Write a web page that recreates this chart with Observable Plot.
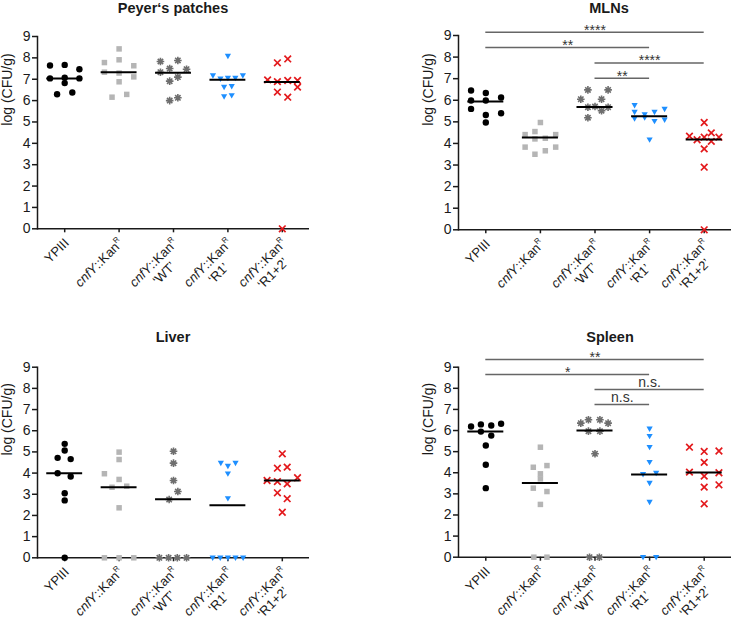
<!DOCTYPE html>
<html><head><meta charset="utf-8">
<script src="https://cdn.jsdelivr.net/npm/d3@7"></script>
<script src="https://cdn.jsdelivr.net/npm/@observablehq/plot@0.6"></script>
<style>
body{margin:0;background:#fff;}
#chart{position:relative;width:731px;height:626px;overflow:hidden;background:#fff;font-family:"Liberation Sans",Arial,sans-serif;}
#chart svg{position:absolute;background:transparent;}
.title{position:absolute;font-weight:bold;font-size:14.5px;line-height:16px;transform:translateX(-50%);white-space:nowrap;color:#1a1a1a;}
</style></head>
<body><div id="chart"></div>
<script>
// ---------- shared categories / ticks ----------
const groups = ["YPIII", "cnfY::KanR", "cnfY::KanR\n‘WT’", "cnfY::KanR\n‘R1’", "cnfY::KanR\n‘R1+2’"];
const yTicks = [0, 1, 2, 3, 4, 5, 6, 7, 8, 9];
const yLabel = "log (CFU/g)";

// ---------- Peyer's patches ----------
const peyersTitle = "Peyer‘s patches";
const peyersValues = [
  [7.64, 7.67, 7.47, 7.04, 7.07, 7.04, 6.82, 6.30, 6.38],
  [8.42, 7.78, 7.91, 7.63, 7.33, 7.29, 7.11, 6.88, 6.16, 6.29],
  [7.83, 7.88, 7.50, 7.47, 7.33, 7.10, 6.91, 6.00, 6.13],
  [8.08, 7.17, 7.02, 7.05, 7.05, 7.17, 6.63, 6.67, 6.19, 6.24],
  [7.77, 7.95, 6.97, 6.89, 6.94, 6.94, 6.63, 6.40, 6.16, 0]
];
const peyersJitter = [
  [-0.27, 0, 0.27, -0.27, 0, 0.27, 0, -0.14, 0.14],
  [0, -0.27, 0, 0.27, -0.27, 0, 0.27, 0, -0.13, 0.14],
  [-0.24, 0.08, -0.07, 0.24, -0.24, 0.08, -0.07, -0.07, 0.08],
  [0, -0.275, -0.137, 0, 0.137, 0.275, -0.07, 0.07, -0.07, 0.07],
  [-0.09, 0.1, -0.27, -0.09, 0.1, 0.28, 0.28, -0.09, 0.1, 0]
];
const peyersMedians = [7.04, 7.33, 7.30, 6.97, 6.87];
const peyersBrackets = [];

// ---------- MLNs ----------
const mlnTitle = "MLNs";
const mlnValues = [
  [6.45, 6.34, 6.13, 5.99, 5.99, 5.60, 5.32, 5.40, 4.97],
  [4.97, 4.55, 4.41, 4.41, 4.21, 4.24, 3.83, 3.83, 3.66, 3.50],
  [6.48, 6.48, 6.05, 6.05, 5.68, 5.71, 5.68, 5.52, 5.19],
  [5.76, 5.45, 5.34, 5.45, 5.59, 5.15, 5.19, 5.03, 5.09, 4.17],
  [4.97, 4.49, 4.34, 4.17, 4.29, 4.10, 4.29, 3.75, 2.90, 0]
];
const mlnJitter = [
  [-0.27, 0, 0.28, -0.27, 0, -0.27, 0, 0.28, 0],
  [0, -0.1, -0.28, 0.28, -0.1, 0.09, -0.28, 0.28, 0.09, -0.1],
  [-0.13, 0.24, -0.26, 0.12, -0.13, 0, 0.24, 0.12, -0.13],
  [-0.275, -0.275, -0.09, 0.09, 0.275, -0.275, -0.09, 0.09, 0.275, 0],
  [0, 0.13, -0.27, -0.13, 0, 0.13, 0.27, 0, 0, 0]
];
const mlnMedians = [5.94, 4.27, 5.69, 5.26, 4.18];
const mlnBracketFrom = [0, 0, 2, 2];
const mlnBracketTo = [4, 3, 4, 3];
const mlnBracketY = [9.15, 8.44, 7.73, 7.02];
const mlnBracketText = ["****", "**", "****", "**"];

// ---------- Liver ----------
const liverTitle = "Liver";
const liverValues = [
  [5.38, 5.07, 4.72, 4.66, 3.99, 3.84, 3.05, 2.71, 0],
  [4.99, 4.64, 3.97, 3.70, 3.33, 3.38, 2.36, 0, 0, 0],
  [5.03, 4.47, 3.65, 3.13, 2.75, 0, 0, 0, 0],
  [4.47, 4.33, 4.47, 3.97, 2.80, 0, 0, 0, 0, 0],
  [4.91, 4.23, 4.28, 3.65, 3.60, 3.78, 3.49, 3.07, 2.79, 2.15]
];
const liverJitter = [
  [0, 0, -0.13, 0.11, -0.13, 0.11, 0, 0, 0],
  [0, 0, -0.27, 0, -0.13, 0.14, 0, -0.27, 0, 0.27],
  [0, 0, 0, 0.08, -0.08, -0.26, -0.09, 0.07, 0.24],
  [-0.13, 0, 0.14, 0, 0, -0.28, -0.14, 0, 0.14, 0.28],
  [0, -0.09, 0.09, -0.28, -0.09, 0.28, 0.09, -0.09, 0.09, 0]
];
const liverMedians = [3.99, 3.33, 2.77, 2.48, 3.65];

// ---------- Spleen ----------
const spleenTitle = "Spleen";
const spleenValues = [
  [6.19, 6.29, 6.24, 6.32, 5.95, 5.76, 5.29, 4.38, 3.27],
  [5.21, 4.26, 4.34, 3.95, 3.71, 3.27, 3.11, 2.50, 0, 0],
  [6.35, 6.51, 6.51, 6.35, 5.97, 5.97, 4.90, 0, 0],
  [6.08, 5.73, 5.21, 4.50, 3.92, 3.98, 3.51, 2.61, 0, 0],
  [5.21, 5.01, 5.03, 4.49, 4.03, 3.84, 4.00, 3.32, 3.43, 2.53]
];
const spleenJitter = [
  [-0.27, -0.09, 0.1, 0.28, -0.09, 0.1, 0, 0, 0],
  [0, -0.13, 0.12, 0, 0, -0.13, 0.12, 0, -0.12, 0.12],
  [-0.26, -0.12, 0.09, 0.24, -0.12, 0.09, 0, -0.1, 0.08],
  [0, 0, 0, 0, -0.12, 0.12, 0, 0, -0.12, 0.12],
  [-0.27, 0, 0.27, 0, -0.27, 0, 0.27, 0, 0.27, 0]
];
const spleenMedians = [5.95, 3.51, 6.00, 3.92, 4.01];
const spleenBracketFrom = [0, 0, 2, 2];
const spleenBracketTo = [4, 3, 4, 3];
const spleenBracketY = [9.36, 8.65, 7.94, 7.23];
const spleenBracketText = ["**", "*", "n.s.", "n.s."];

// ---------- marker styles ----------
const asterisk8 = {draw(ctx, size) {
  const r = Math.sqrt(size / Math.PI), d = r * Math.SQRT1_2;
  ctx.moveTo(-r, 0); ctx.lineTo(r, 0); ctx.moveTo(0, -r); ctx.lineTo(0, r);
  ctx.moveTo(-d, -d); ctx.lineTo(d, d); ctx.moveTo(-d, d); ctx.lineTo(d, -d);
}};
const triangleDown = {draw(ctx, size) {
  const r = Math.sqrt(size / Math.PI);
  ctx.moveTo(-r, -0.75 * r); ctx.lineTo(r, -0.75 * r); ctx.lineTo(0, r); ctx.closePath();
}};
const styles = [
  {symbol: "circle", r: 3.2, fill: "#000", stroke: "none", sw: 0},
  {symbol: "square", r: 3.1, fill: "#b5b5b5", stroke: "none", sw: 0},
  {symbol: asterisk8, r: 3.8, fill: "none", stroke: "#6e6e6e", sw: 1.6},
  {symbol: triangleDown, r: 3.1, fill: "#1e8fff", stroke: "none", sw: 0},
  {symbol: "times", r: 3.1, fill: "none", stroke: "#e3191c", sw: 1.7}
];

function makeBrackets(from, to, y, text) {
  return from.map((f, i) => ({from: f, to: to[i], y: y[i], label: text[i]}));
}

function panel({values, jitter, medians, brackets, width, height, marginLeft, marginRight, marginTop, marginBottom}) {
  const points = values.flatMap((vals, g) => vals.map((v, k) => ({g, x: g + jitter[g][k], y: v})));
  const meds = medians.map((v, g) => ({g, v}));
  const labels = groups.map((t, g) => ({g, t}));
  return Plot.plot({
    width, height, marginLeft, marginRight, marginTop, marginBottom,
    style: {fontFamily: "Liberation Sans, Arial, sans-serif", fontSize: "14px", color: "#1a1a1a", background: "transparent"},
    x: {domain: [-0.5, 4.5]},
    y: {domain: [0, 9]},
    marks: [
      Plot.axisY({ticks: yTicks, tickSize: 5, tickPadding: 2, fontSize: 14, label: null, strokeWidth: 1.5}),
      Plot.axisX({ticks: [0, 1, 2, 3, 4], tickSize: 4, tickFormat: () => "", label: null, strokeWidth: 1.5}),
      Plot.frame({anchor: "left", strokeWidth: 1.5}),
      Plot.ruleY([0], {strokeWidth: 1.5}),
      Plot.text([yLabel], {frameAnchor: "left", rotate: -90, dx: -35, dy: -7, lineAnchor: "top", fontSize: 14}),
      ...styles.map((s, g) => Plot.dot(points.filter(p => p.g === g), {
        x: "x", y: "y", symbol: s.symbol, r: s.r, fill: s.fill, stroke: s.stroke, strokeWidth: s.sw
      })),
      Plot.ruleY(meds, {x1: d => d.g - 0.33, x2: d => d.g + 0.33, y: "v", strokeWidth: 2, stroke: "#000"}),
      Plot.ruleY(brackets, {x1: "from", x2: "to", y: "y", stroke: "#666", strokeWidth: 1.5}),
      Plot.text(brackets.filter(b => b.label !== "n.s."), {x: d => (d.from + d.to) / 2, y: "y", text: "label", lineAnchor: "bottom", dy: 2.5, fontSize: 14, fill: "#333"}),
      Plot.text(brackets.filter(b => b.label === "n.s."), {x: d => (d.from + d.to) / 2, y: "y", text: "label", lineAnchor: "bottom", dy: -3, fontSize: 14, fill: "#333"}),
      Plot.text(labels, {x: "g", frameAnchor: "bottom", text: "t", rotate: -45, textAnchor: "middle", lineAnchor: "bottom", dx: 5, dy: 15, fontSize: 13, ariaLabel: () => "group label"})
    ]
  });
}

const chart = document.getElementById("chart");
function place(svg, left, top) {
  svg.style.left = left + "px"; svg.style.top = top + "px";
  chart.appendChild(svg);
  // rich-text group labels (italic gene name, superscript R, centred second line)
  const flat = groups.map(g => g.replace("\n", ""));
  d3.select(svg).selectAll("text").each(function() {
    const i = flat.indexOf(this.textContent);
    if (i < 0) return;
    const [line1, line2] = groups[i].split("\n");
    const t = d3.select(this);
    t.text(null).attr("y", null).attr("dy", null).attr("text-anchor", "middle");
    const l1 = t.append("tspan").attr("x", 0).attr("y", 0);
    const m = line1.match(/^(cnfY)(::Kan)(R)$/);
    if (m) {
      l1.append("tspan").attr("font-style", "italic").text(m[1]);
      l1.append("tspan").text(m[2]);
      l1.append("tspan").attr("font-size", "0.6em").attr("dy", "-0.75em").text(m[3]);
    } else l1.text(line1);
    const w = l1.node().getComputedTextLength();
    l1.attr("x", -w / 2);
    if (line2) t.append("tspan").attr("x", -w / 2).attr("y", "1.15em").text(line2);
  });
}
function title(text, cx, top) {
  const d = document.createElement("div");
  d.className = "title"; d.textContent = text;
  d.style.left = cx + "px"; d.style.top = top + "px";
  chart.appendChild(d);
}

place(panel({values: peyersValues, jitter: peyersJitter, medians: peyersMedians, brackets: peyersBrackets,
  width: 365, height: 300, marginLeft: 37, marginRight: 56, marginTop: 36, marginBottom: 71.7}), 0, 0);
place(panel({values: mlnValues, jitter: mlnJitter, medians: mlnMedians,
  brackets: makeBrackets(mlnBracketFrom, mlnBracketTo, mlnBracketY, mlnBracketText),
  width: 366, height: 300, marginLeft: 93, marginRight: 0, marginTop: 35, marginBottom: 70.7}), 365, 0);
place(panel({values: liverValues, jitter: liverJitter, medians: liverMedians, brackets: [],
  width: 365, height: 326, marginLeft: 37, marginRight: 56, marginTop: 66.7, marginBottom: 68.7}), 0, 300);
place(panel({values: spleenValues, jitter: spleenJitter, medians: spleenMedians,
  brackets: makeBrackets(spleenBracketFrom, spleenBracketTo, spleenBracketY, spleenBracketText),
  width: 366, height: 326, marginLeft: 93, marginRight: 0, marginTop: 66.7, marginBottom: 69.3}), 365, 300);

title(peyersTitle, 173, 0);
title(mlnTitle, 609, 0);
title(liverTitle, 173, 329);
title(spleenTitle, 610, 329);
</script>
</body></html>
